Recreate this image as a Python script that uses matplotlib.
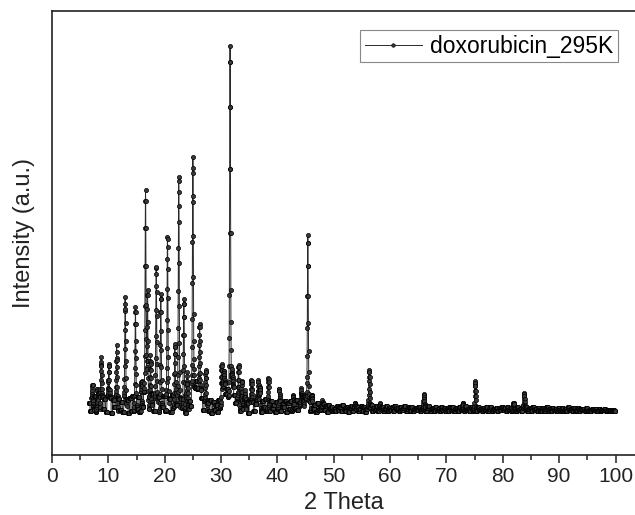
import matplotlib
matplotlib.use("Agg")
import matplotlib.pyplot as plt
import numpy as np

plt.rcParams['font.family'] = ['Liberation Sans', 'DejaVu Sans']

# background counts, one value per 0.25 deg starting at 6.5 deg
bg_06_10 = [118, 98, 128, 102, 132, 96, 124, 140, 99, 130, 104, 126, 97, 133]
bg_10_15 = [101, 129, 95, 123, 108, 132, 97, 127, 102, 120, 96, 131, 105, 124, 94, 128, 100, 132, 98, 121]
bg_15_20 = [103, 130, 97, 136, 108, 141, 116, 132, 102, 129, 110, 138, 99, 126, 113, 131, 96, 128, 107, 133]
bg_20_24 = [100, 130, 109, 126, 97, 135, 105, 129, 112, 132, 98, 127, 106, 124, 95, 129, 102, 121, 110]
bg_24_26 = [158, 171, 152, 166, 149, 160, 145]
bg_26_30 = [128, 102, 122, 96, 117, 99, 125, 95, 120, 101, 112, 97, 123, 106]
bg_30_33 = [125, 150, 160, 138, 148, 130, 142, 165, 152, 136, 118, 126]
bg_33_40 = [112, 98, 121, 104, 126, 101, 117, 95, 123, 108, 119, 99, 114, 124, 103, 118, 96, 121, 107, 125,
            100, 116, 98, 122, 105, 113, 97, 120]
bg_40_45 = [104, 119, 98, 115, 108, 122, 96, 117, 103, 121, 99, 113, 106, 124, 101, 118, 110, 127, 103, 130]
bg_45_50 = [126, 110, 120, 99, 116, 104, 112, 97, 118, 102, 109, 98, 114, 101, 111, 96, 113, 103, 108, 100]
bg_50_60 = [104, 99, 110, 101, 107, 98, 112, 103, 100, 108, 97, 105, 111, 99, 106, 102, 109, 98, 104, 110,
            100, 107, 97, 103, 108, 101, 112, 99, 105, 102, 110, 98, 106, 103, 109, 100, 104, 111, 99, 106]
bg_60_70 = [102, 108, 99, 111, 103, 106, 98, 109, 101, 105, 110, 99, 104, 107, 100, 108, 98, 103, 106, 101,
            109, 99, 104, 102, 107, 98, 105, 110, 100, 103, 106, 99, 108, 101, 104, 98, 107, 102, 105, 100]
bg_70_80 = [104, 99, 107, 101, 109, 98, 103, 106, 100, 108, 102, 105, 99, 110, 101, 104, 98, 107, 103, 100,
            106, 99, 108, 102, 104, 98, 105, 101, 107, 100, 103, 109, 99, 104, 101, 106, 98, 105, 102, 107]
bg_80_90 = [101, 105, 99, 108, 102, 106, 100, 110, 103, 98, 107, 101, 104, 99, 106, 102, 108, 100, 103, 105,
            98, 107, 101, 104, 99, 106, 102, 100, 105, 98, 104, 107, 100, 103, 99, 106, 101, 104, 98, 105]
bg_90_100 = [102, 99, 106, 100, 104, 98, 107, 101, 103, 99, 105, 100, 102, 106, 98, 104, 101, 103, 99, 105,
             100, 102, 98, 104, 101, 103, 99, 100, 104, 98, 102, 101, 103, 99, 101, 100, 102, 98, 101, 100]

# reflections: position (2 theta) and height above background
peak_pos = [7.2, 8.0, 8.7, 10.1, 11.5, 13.0, 14.8, 15.9, 16.6, 16.95, 17.5, 18.5, 19.3, 20.5,
            21.8, 22.5, 23.4, 24.0, 25.0, 26.2, 27.3, 30.1, 30.5, 31.6, 32.0, 33.1, 33.7, 34.3,
            35.4, 36.6, 36.9, 38.4, 40.3, 42.8, 44.2, 44.6, 45.4, 46.1, 47.9, 53.8, 56.3, 58.2,
            66.0, 72.9, 75.1, 81.9, 83.8]
peak_height = [30, 25, 110, 105, 122, 235, 212, 30, 480, 240, 100, 310, 235, 378,
               120, 520, 228, 60, 500, 135, 95, 80, 30, 780, 30, 90, 45, 30,
               62, 65, 35, 58, 30, 22, 30, 28, 385, 20, 20, 15, 90, 10,
               30, 12, 60, 7, 38]
peak_sigma = 0.08

background = np.concatenate([bg_06_10, bg_10_15, bg_15_20, bg_20_24, bg_24_26, bg_26_30, bg_30_33,
                             bg_33_40, bg_40_45, bg_45_50, bg_50_60, bg_60_70, bg_70_80, bg_80_90,
                             bg_90_100]).astype(float)

two_theta = 6.5 + 0.025 * np.arange(len(background) * 10)
intensity = np.repeat(background, 10)
for p, h in zip(peak_pos, peak_height):
    intensity += h * np.exp(-(two_theta - p) ** 2 / (2 * peak_sigma ** 2))

fig = plt.figure(figsize=(6.35, 5.15), dpi=100)
ax = fig.add_axes([52 / 635, 60 / 515, 583 / 635, 444 / 515])

ax.plot(two_theta, intensity, color='#2a2a2a', lw=0.7, marker='o', ms=3.0,
        mfc='#3a3a3a', mec='#000000', mew=0.5, label='doxorubicin_295K')

ax.set_xlim(0, 583 / 5.635)
ax.set_ylim(0, 1000)
ax.set_xticks(range(0, 101, 10))
ax.set_xticks(range(5, 100, 10), minor=True)
ax.set_yticks([])
ax.tick_params(axis='x', which='major', direction='out', length=6, width=1.1,
               labelsize=15, colors='#222222', pad=3)
ax.tick_params(axis='x', which='minor', direction='out', length=3.5, width=1.1, colors='#222222')
for s in ['left', 'bottom', 'top']:
    ax.spines[s].set_color('#222222')
    ax.spines[s].set_linewidth(1.2)
ax.spines['right'].set_visible(False)

ax.set_xlabel('2 Theta', fontsize=17, color='#222222', labelpad=4)
ax.set_ylabel('Intensity (a.u.)', fontsize=17, color='#222222', labelpad=12)

leg = ax.legend(loc='upper right', bbox_to_anchor=(618 / 635, 1 - 30 / 515),
                bbox_transform=fig.transFigure, borderaxespad=0, fontsize=16.5,
                handlelength=2.5, handletextpad=0.35, borderpad=0.2, fancybox=False,
                framealpha=1, edgecolor='#888888')
leg.get_frame().set_linewidth(0.8)
leg.get_lines()[0].set_markersize(2.5)

fig.savefig('out.png', dpi=100)
